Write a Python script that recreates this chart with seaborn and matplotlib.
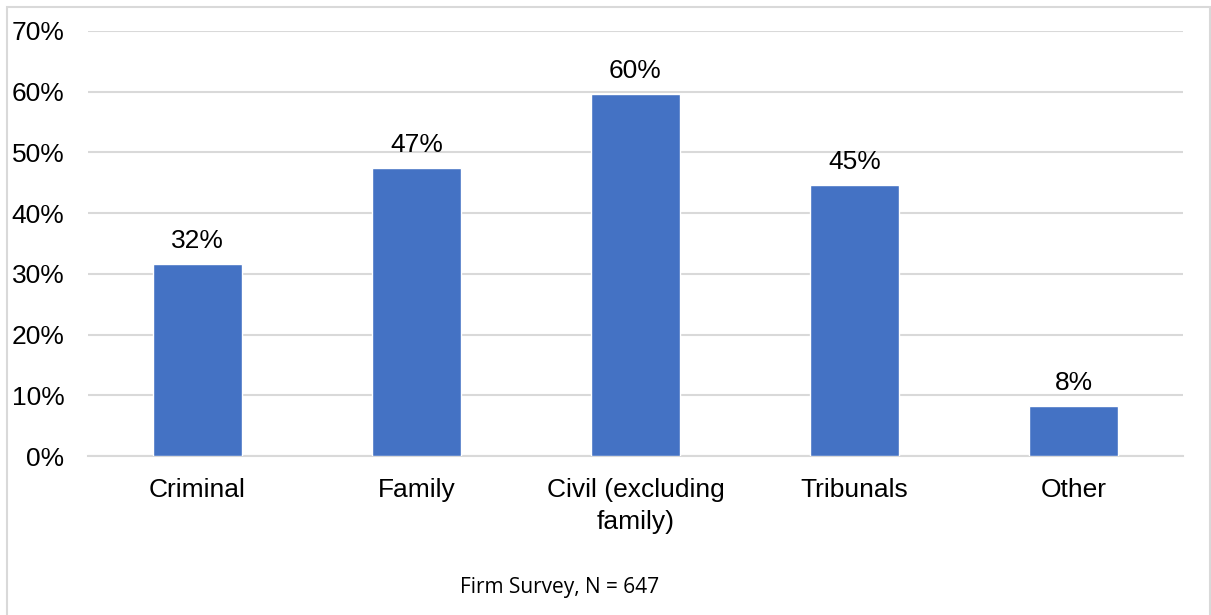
import matplotlib
matplotlib.use("Agg")
import matplotlib.pyplot as plt
from matplotlib.patches import Rectangle
from matplotlib.ticker import PercentFormatter
import seaborn as sns
import pandas as pd

categories = ["Criminal", "Family", "Civil (excluding\nfamily)", "Tribunals", "Other"]
shares = [31.6, 47.4, 59.6, 44.6, 8.2]
y_ticks = [0, 10, 20, 30, 40, 50, 60, 70]
caption = "Firm Survey, N = 647"

sns.set_theme(style="white")
plt.rcParams["font.family"] = ["Liberation Sans", "DejaVu Sans"]

df = pd.DataFrame({"category": categories, "share": shares})

fig = plt.figure(figsize=(12.11, 6.15), dpi=100)
ax = fig.add_axes([88 / 1211, 159 / 615, (1183 - 88) / 1211, (456 - 31) / 615])

grid_color = "#D9D9D9"
bar_color = "#4472C4"

sns.barplot(data=df, x="category", y="share", color=bar_color, width=0.405,
            saturation=1, ax=ax, zorder=3)

ax.set_ylim(0, 70)
ax.set_yticks(y_ticks)
ax.yaxis.set_major_formatter(PercentFormatter(decimals=0))
ax.yaxis.grid(True, color=grid_color, linewidth=1.5, zorder=0)
ax.set_axisbelow(True)
ax.set_xlabel("")
ax.set_ylabel("")
for side in ["top", "right", "left"]:
    ax.spines[side].set_visible(False)
ax.spines["bottom"].set_color(grid_color)
ax.spines["bottom"].set_linewidth(1.5)
ax.tick_params(axis="both", length=0, labelsize=19, colors="black")
ax.tick_params(axis="y", pad=17)
ax.tick_params(axis="x", pad=16)
for lbl in ax.get_xticklabels():
    lbl.set_linespacing(1.4)

for container in ax.containers:
    ax.bar_label(container, labels=[f"{v:.0f}%" for v in shares],
                 padding=8, fontsize=19, color="black")

fig.text(560 / 1211, 1 - 587 / 615, caption, ha="center", va="center",
         fontsize=15, family=["Open Sans", "DejaVu Sans"], color="black")

fig.patches.append(Rectangle((7 / 1211, -0.1), (1210 - 7) / 1211, 1.1 - 7 / 615,
                             transform=fig.transFigure, fill=False,
                             edgecolor=grid_color, linewidth=1.5))

fig.savefig("out.png", dpi=100, facecolor="white")
